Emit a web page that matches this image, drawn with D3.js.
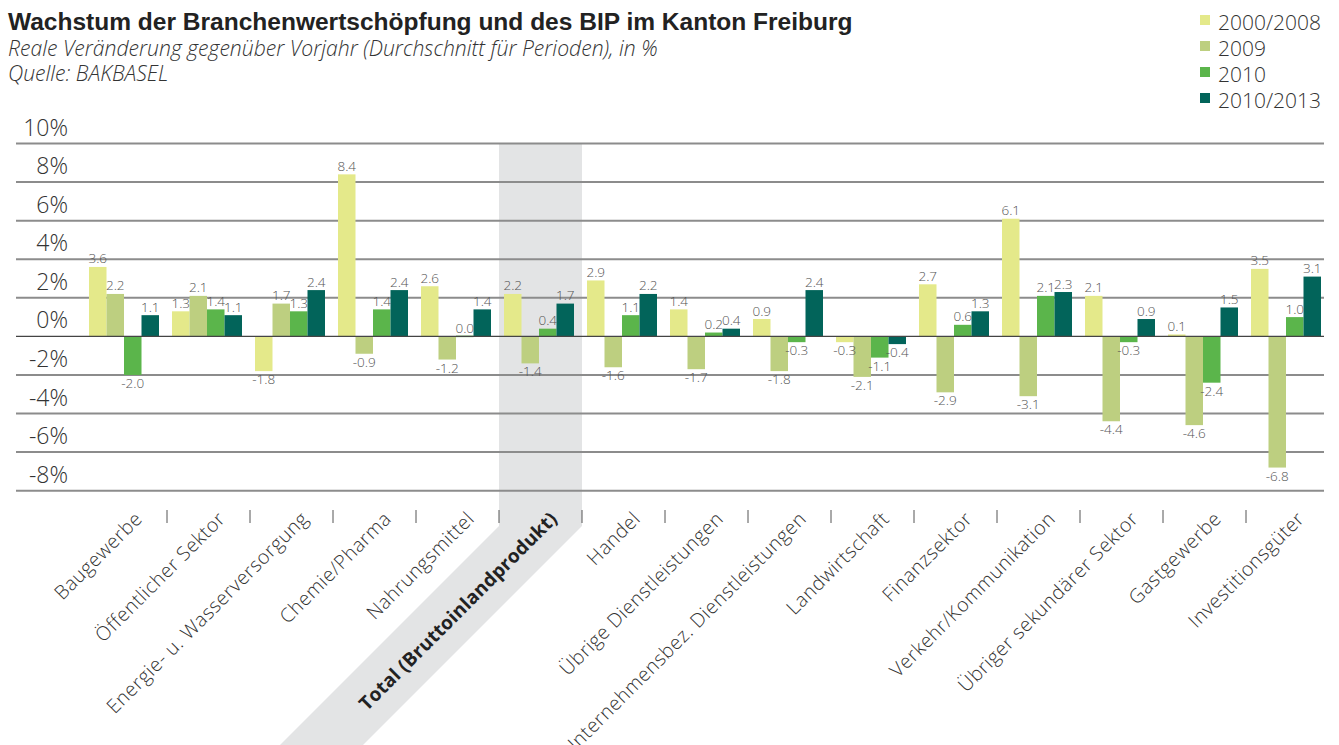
<!DOCTYPE html>
<html><head><meta charset="utf-8">
<script src="https://cdn.jsdelivr.net/npm/d3@7"></script>
<style>
html,body{margin:0;padding:0;background:#fff;}
svg text{font-family:"Open Sans","Liberation Sans",sans-serif;}
</style></head>
<body><svg id="c" width="1339" height="745"></svg>
<script>
const categories = ["Baugewerbe","Öffentlicher Sektor","Energie- u. Wasserversorgung","Chemie/Pharma","Nahrungsmittel","Total (Bruttoinlandprodukt)","Handel","Übrige Dienstleistungen","Unternehmensbez. Dienstleistungen","Landwirtschaft","Finanzsektor","Verkehr/Kommunikation","Übriger sekundärer Sektor","Gastgewerbe","Investitionsgüter"];
const seriesNames = ["2000/2008","2009","2010","2010/2013"];
const s2000_2008 = [3.6,1.3,-1.8,8.4,2.6,2.2,2.9,1.4,0.9,-0.3,2.7,6.1,2.1,0.1,3.5];
const s2009      = [2.2,2.1,1.7,-0.9,-1.2,-1.4,-1.6,-1.7,-1.8,-2.1,-2.9,-3.1,-4.4,-4.6,-6.8];
const s2010      = [-2.0,1.4,1.3,1.4,0.0,0.4,1.1,0.2,-0.3,-1.1,0.6,2.1,-0.3,-2.4,1.0];
const s2010_2013 = [1.1,1.1,2.4,2.4,1.4,1.7,2.2,0.4,2.4,-0.4,1.3,2.3,0.9,1.5,3.1];
const yTicks = [-8,-6,-4,-2,0,2,4,6,8,10];
const highlightCategory = "Total (Bruttoinlandprodukt)";
const colors = ["#e4e98a","#bdcf80","#5bb54b","#02645a"];

const series = [s2000_2008,s2009,s2010,s2010_2013];
const svg = d3.select("#c");

const x = d3.scaleBand().domain(categories).range([84, 1329]).paddingInner(0).paddingOuter(0);
const y = d3.scaleLinear().domain([-8,10]).range([490.7,143.5]);
const groupPad = 5;
const x1 = d3.scaleBand().domain(seriesNames).range([0, x.bandwidth()-13]).padding(0);

// highlight band
const hx0 = x(highlightCategory), hx1 = hx0 + x.bandwidth();
const slantTop = 526, bottom = 745, shift = bottom - slantTop;
svg.append("path")
  .attr("d", `M${hx0},${y(10)}L${hx1},${y(10)}L${hx1},${slantTop}L${hx1-shift},${bottom}L${hx0-shift},${bottom}L${hx0},${slantTop}Z`)
  .attr("fill","#e3e4e5");

// gridlines
svg.append("g").selectAll("line").data(yTicks.filter(d=>d!==0)).join("line")
  .attr("x1",16).attr("x2",1324)
  .attr("y1",d=>y(d)).attr("y2",d=>y(d))
  .attr("stroke","#8c8c8c").attr("stroke-width",2);

// y labels
svg.append("g").selectAll("text").data(yTicks).join("text")
  .attr("x",68).attr("y",d=>y(d)-8)
  .attr("text-anchor","end")
  .attr("font-size",23).attr("font-weight",300).attr("fill","#333")
  .text(d=>d+"%");

// bars
const flat = [];
categories.forEach((c,i)=>seriesNames.forEach((s,j)=>flat.push({c,s,j,v:series[j][i]})));
svg.append("g").selectAll("rect").data(flat).join("rect")
  .attr("x",d=>x(d.c)+groupPad+x1(d.s))
  .attr("width",x1.bandwidth())
  .attr("y",d=>Math.min(y(d.v),y(0)) - (d.v===0?0.75:0))
  .attr("height",d=>Math.max(Math.abs(y(d.v)-y(0)),1.5))
  .attr("fill",d=>colors[d.j]);

// zero line
svg.append("line").attr("x1",16).attr("x2",1324).attr("y1",y(0)).attr("y2",y(0))
  .attr("stroke","#444").attr("stroke-width",1.3);

// value labels
svg.append("g").selectAll("text").data(flat).join("text")
  .attr("x",d=>x(d.c)+groupPad+x1(d.s)+x1.bandwidth()/2)
  .attr("y",d=>d.v>=0 ? y(d.v)-3.5 : y(d.v)+13)
  .attr("text-anchor","middle")
  .attr("font-size",13.5).attr("font-weight",300).attr("fill","#555")
  .text(d=>d.v.toFixed(1));

// category ticks
svg.append("g").selectAll("line").data(categories.slice(1)).join("line")
  .attr("x1",d=>x(d)).attr("x2",d=>x(d))
  .attr("y1",510).attr("y2",523)
  .attr("stroke","#555").attr("stroke-width",1);

// category labels
svg.append("g").selectAll("text").data(categories).join("text")
  .attr("transform",d=>`translate(${x(d)+x.bandwidth()/2+18},520) rotate(-45)`)
  .attr("text-anchor","end")
  .attr("font-size",d=>d===highlightCategory?19:19.5)
  .attr("letter-spacing",d=>d===highlightCategory?0.2:0.5)
  .attr("font-weight",d=>d===highlightCategory?700:300)
  .attr("fill",d=>d===highlightCategory?"#222":"#333")
  .text(d=>d);

// titles
function fit(sel, target){ const n=sel.node(); const L=n.getComputedTextLength(); const fs=+sel.attr("font-size"); sel.attr("font-size", fs*target/L); }
const t1 = svg.append("text").attr("x",8).attr("y",30).attr("font-size",20).attr("font-weight",700).attr("fill","#222")
  .style("font-family","'Liberation Sans',Arial,sans-serif")
  .text("Wachstum der Branchenwertschöpfung und des BIP im Kanton Freiburg");
fit(t1, 845);
const t2 = svg.append("text").attr("x",8).attr("y",56).attr("font-size",18).attr("font-style","italic").attr("font-weight",300).attr("fill","#333")
  .text("Reale Veränderung gegenüber Vorjahr (Durchschnitt für Perioden), in %");
fit(t2, 650);
const t3 = svg.append("text").attr("x",8).attr("y",81).attr("font-size",+t2.attr("font-size")).attr("font-style","italic").attr("font-weight",300).attr("fill","#333")
  .text("Quelle: BAKBASEL");

// legend
const lg = svg.append("g").selectAll("g").data(seriesNames).join("g")
  .attr("transform",(d,i)=>`translate(1200,${30+i*26})`);
lg.append("rect").attr("x",0).attr("y",-15).attr("width",10).attr("height",10).attr("fill",(d,i)=>colors[i]);
lg.append("text").attr("x",18).attr("y",0).attr("font-size",21).attr("font-weight",300).attr("fill","#333").text(d=>d);
</script></body></html>
